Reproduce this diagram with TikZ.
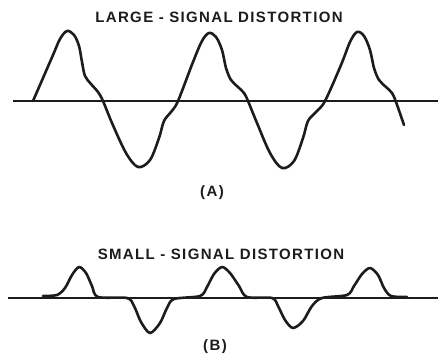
\documentclass[tikz,border=0pt]{standalone}
\usepackage{fontspec}
\setmainfont{Liberation Sans}
\usepackage{tikz}
\usetikzlibrary{positioning}
\usepackage{xcolor}
\definecolor{InkD}{RGB}{28,28,28}

\begin{document}
\begin{tikzpicture}[x=1pt,y=-1pt,
    wave/.style={InkD,line width=2.6pt,line join=round,line cap=round},
    baseline/.style={InkD,line width=1.3pt},
    caption/.style={InkD,font=\fontsize{15}{17}\selectfont\addfontfeature{LetterSpace=9}\bfseries}]
        \useasboundingbox (0,0) rectangle (438,355);
        % (A) large signal
        \node[caption] (titleA) at (219,17) {LARGE - SIGNAL DISTORTION};
        \draw[baseline] (13,101)--(438,101);
        \draw[wave] plot[smooth,tension=0.55] coordinates {
          (33,101) (53,55) (60,39) (67,31) (74,35) (79,46) (82,62) (85,76)
          (91,84) (98,92) (103,101) (112,123) (126,153) (138,167) (150,160)
          (159,138) (164,121) (171,112) (178,101) (193,62) (202,41) (209,33)
          (216,37) (222,50) (226,68) (231,80) (238,87) (244,93) (248,101)
          (257,123) (270,153) (282,168) (294,161) (303,138) (308,121)
          (316,112) (325,101) (341,65) (350,42) (357,32) (364,36) (370,50)
          (374,68) (379,80) (386,87) (392,93) (396,102) (404,125)};
        \node[caption] (labelA) at (212,193) {(A)};
        % (B) small signal
        \node[caption] (titleB) at (221,254) {SMALL - SIGNAL DISTORTION};
        \draw[baseline] (8,298)--(438,298);
        \draw[wave] plot[smooth,tension=0.5] coordinates {
          (43,296) (57,295) (65,288) (72,275) (79,267) (86,273) (92,286)
          (98,297) (127,298) (134,306) (141,322) (150,333) (160,323)
          (167,308) (174,299) (200,296) (207,287) (214,274) (222,267)
          (230,273) (239,286) (247,297) (272,298) (278,306) (285,320)
          (293,328) (303,321) (312,306) (322,298) (347,295) (354,286)
          (362,274) (370,268) (378,275) (384,288) (391,296) (407,297)};
        \node[caption] (labelB) at (215,347) {(B)};
      \end{tikzpicture}
\end{document}
